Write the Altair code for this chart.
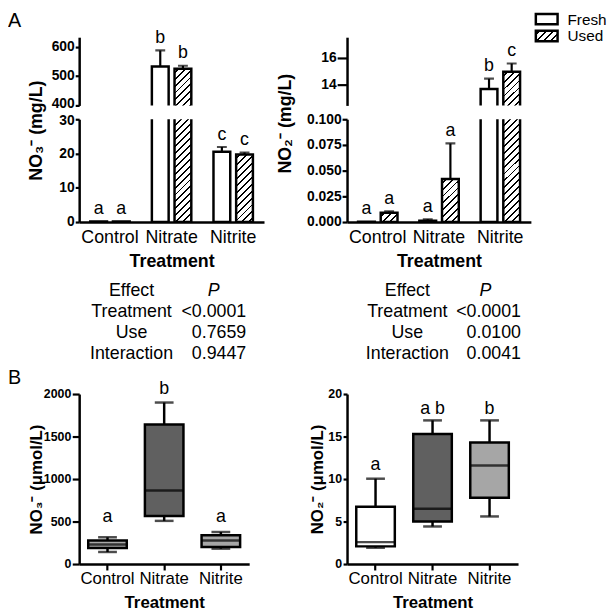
import altair as alt
import pandas as pd

FONT = "Liberation Sans"

treatments = ["Control", "Nitrate", "Nitrite"]
uses = ["Fresh", "Used"]

# ---- Panel A, NO3- (mg/L): means, upper error, letters
no3_fresh_mean = [0.15, 532.0, 20.5]
no3_fresh_err = [0.0, 55.0, 1.4]
no3_used_mean = [0.15, 525.0, 19.7]
no3_used_err = [0.0, 10.0, 0.6]
no3_fresh_letters = ["a", "b", "c"]
no3_used_letters = ["a", "b", "c"]

# ---- Panel A, NO2- (mg/L)
no2_fresh_mean = [0.0002, 0.0013, 13.71]
no2_fresh_err = [0.0, 0.0013, 0.75]
no2_used_mean = [0.009, 0.0418, 14.96]
no2_used_err = [0.0013, 0.0347, 0.61]
no2_fresh_letters = ["a", "a", "b"]
no2_used_letters = ["a", "a", "c"]

# ---- ANOVA tables
effects = ["Treatment", "Use", "Interaction"]
no3_p = ["<0.0001", "0.7659", "0.9447"]
no2_p = ["<0.0001", "0.0100", "0.0041"]

# ---- Panel B, NO3- (umol/L) box plots
b_no3_min = [142, 508, 181]
b_no3_q1 = [188, 565, 200]
b_no3_med = [231, 865, 277]
b_no3_q3 = [277, 1642, 338]
b_no3_max = [315, 1900, 377]
b_no3_letters = ["a", "b", "a"]
b_no3_letter_pos = [495, 2000, 495]

# ---- Panel B, NO2- (umol/L) box plots
b_no2_min = [1.92, 4.42, 5.6]
b_no2_q1 = [2.08, 5.0, 7.8]
b_no2_med = [2.58, 6.5, 11.6]
b_no2_q3 = [6.73, 15.3, 14.3]
b_no2_max = [10.04, 16.9, 16.9]
b_no2_letters = ["a", "a b", "b"]
b_no2_letter_pos = [11.1, 17.7, 17.7]

# ---- styles
SW = 2.5
EW = 2.2
PAD_IN, PAD_OUT, OFF_IN = 0.36, 0.18, 0.26
B_NO3_FILLS = ["#a9a9a9", "#606060", "#a6a6a6"]
B_NO2_FILLS = ["#ffffff", "#606060", "#a6a6a6"]


def bar_width(width):
    step = width / (len(treatments) - PAD_IN + 2 * PAD_OUT)
    band = step * (1 - PAD_IN)
    sub = band / (len(uses) - OFF_IN)
    return sub * (1 - OFF_IN)


def hatch(w, h, period=7.0, line=1.9):
    s = w + h
    c = s / (w * w + h * h)
    stops = []
    pos = period * 0.45
    while pos < s:
        a = round(pos / s, 5)
        b = round(min((pos + line) / s, 1.0), 5)
        stops += [{"offset": a, "color": "#ffffff"}, {"offset": a, "color": "#000000"},
                  {"offset": b, "color": "#000000"}, {"offset": b, "color": "#ffffff"}]
        pos += period
    return {"gradient": "linear", "x1": 0, "y1": 0,
            "x2": round(w * c, 5), "y2": round(h * c, 5), "stops": stops}


def bar_table(fm, fe, um, ue, fl, ul):
    rows = []
    for i, t in enumerate(treatments):
        rows.append(dict(treatment=t, use="Fresh", mean=fm[i], err=fe[i], letter=fl[i]))
        rows.append(dict(treatment=t, use="Used", mean=um[i], err=ue[i], letter=ul[i]))
    df = pd.DataFrame(rows)
    df["top"] = df["mean"] + df["err"]
    return df


def bar_panel(df, lo, hi, width, height, yvals, yfmt, tick, lower,
              ytitle=None, title_x=0.0, title_y=0.0, nudge=None):
    ppu = height / (hi - lo)
    m = 4.0 / ppu
    d = df.copy()
    d["bar_top"] = d["mean"].clip(upper=hi + m)
    d["bar_base"] = 0.0 if lo <= 0 else lo - m
    d = d[d["mean"] > lo].reset_index(drop=True)

    yscale = alt.Scale(domain=[lo, hi], nice=False, zero=False)
    ax = dict(values=yvals, format=yfmt, tickSize=tick, labelPadding=1,
              labelFontSize=14, labelFontWeight="bold", labelOverlap=False)
    if nudge is not None:
        ax["labelOffset"] = {"condition": {"test": f"datum.value == {nudge[0]}",
                                           "value": nudge[1]}, "value": 0}
    if ytitle is not None:
        ax.update(title=ytitle, titleX=title_x, titleY=title_y, titleAngle=270,
                  titleAlign="center", titleBaseline="alphabetic",
                  titleFontSize=18, titleFontWeight="bold")
    else:
        ax.update(title=None)
    yaxis = alt.Axis(**ax)
    if lower:
        xaxis = alt.Axis(ticks=False, tickSize=0, labelPadding=7, labelFontSize=18,
                         labelAngle=0, labelFontWeight="normal", title="Treatment",
                         titleFontSize=18, titleFontWeight="bold", titleY=31,
                         titleBaseline="top")
    else:
        xaxis = None

    def Y(f):
        return alt.Y(f, scale=yscale, axis=yaxis)

    x = alt.X("treatment:N", scale=alt.Scale(domain=treatments, paddingInner=PAD_IN,
                                             paddingOuter=PAD_OUT), axis=xaxis)
    xo = alt.XOffset("use:N", scale=alt.Scale(domain=uses, paddingInner=OFF_IN, paddingOuter=0))

    base = alt.Chart(d).encode(x=x, xOffset=xo)
    layers = []
    layers.append(base.transform_filter(alt.datum.use == "Fresh").mark_bar(
        fill="white", stroke="black", strokeWidth=SW, clip=True).encode(
        y=Y("bar_top:Q"), y2="bar_base:Q"))
    w = bar_width(width)
    for _, r in d[d["use"] == "Used"].iterrows():
        hpx = (r["bar_top"] - r["bar_base"]) * ppu
        fill = hatch(w, hpx) if hpx > 3 else "white"
        layers.append(base.transform_filter(
            (alt.datum.use == "Used") & (alt.datum.treatment == r["treatment"])).mark_bar(
            fill=fill, stroke="black", strokeWidth=SW, clip=True).encode(
            y=Y("bar_top:Q"), y2="bar_base:Q"))

    e = df[df["err"] > 0].reset_index(drop=True)
    ebase = alt.Chart(e).encode(x=x, xOffset=xo)
    layers.append(ebase.mark_rule(color="black", strokeWidth=EW, clip=True).encode(
        y=Y("mean:Q"), y2="top:Q"))
    layers.append(ebase.mark_tick(color="black", size=10, thickness=EW, clip=True).encode(
        y=Y("top:Q")))

    lt = df[(df["top"] >= lo) & (df["top"] <= hi)].reset_index(drop=True)
    layers.append(alt.Chart(lt).encode(x=x, xOffset=xo).mark_text(
        font=FONT, fontSize=18, baseline="alphabetic", align="center", dy=-7.5,
        color="black").encode(y=Y("top:Q"), text="letter:N"))
    return layers


no3 = bar_table(no3_fresh_mean, no3_fresh_err, no3_used_mean, no3_used_err,
                no3_fresh_letters, no3_used_letters)
no2 = bar_table(no2_fresh_mean, no2_fresh_err, no2_used_mean, no2_used_err,
                no2_fresh_letters, no2_used_letters)

WL, WR = 187, 186
HU, HL = 69, 104
GAP = 14

tl_u_layers = bar_panel(no3, 400, 632, WL, HU, [400, 500, 600], "d", 4, False,
                        nudge=(400, -1.5))
tl_u_layers.append(alt.Chart(pd.DataFrame({"t": ["A"]})).mark_text(
    font=FONT, fontSize=20, align="left", baseline="top", color="black").encode(
    x=alt.value(-72), y=alt.value(-26), text="t:N"))
tl_u = alt.layer(*tl_u_layers).properties(width=WL, height=HU)

tl_l = alt.layer(*bar_panel(no3, 0, 30, WL, HL, [0, 10, 20, 30], "d", 4, True,
                            ytitle="NO₃⁻ (mg/L)", title_x=-38.3, title_y=11,
                            nudge=(30, 1.5))
                 ).properties(width=WL, height=HL)

tr_u_layers = bar_panel(no2, 12.5, 17.5, WR, HU, [14, 16], "d", 10, False)
# legend
leg = pd.DataFrame({"name": ["Fresh"]})
leg2 = pd.DataFrame({"name": ["Used"]})
tr_u_layers.append(alt.Chart(leg).mark_rect(fill="white", stroke="black", strokeWidth=SW).encode(
    x=alt.value(191), x2=alt.value(213), y=alt.value(-23.5), y2=alt.value(-13)))
tr_u_layers.append(alt.Chart(leg2).mark_rect(fill=hatch(22, 10.5, period=7.0, line=1.9),
                                            stroke="black", strokeWidth=SW).encode(
    x=alt.value(191), x2=alt.value(213), y=alt.value(-6.5), y2=alt.value(4)))
tr_u_layers.append(alt.Chart(leg).mark_text(font=FONT, fontSize=15.5, align="left",
                                            baseline="middle", color="black").encode(
    x=alt.value(223), y=alt.value(-17.5), text="name:N"))
tr_u_layers.append(alt.Chart(leg2).mark_text(font=FONT, fontSize=15.5, align="left",
                                             baseline="middle", color="black").encode(
    x=alt.value(223), y=alt.value(-0.8), text="name:N"))
tr_u = alt.layer(*tr_u_layers).properties(width=WR, height=HU)

tr_l = alt.layer(*bar_panel(no2, 0, 0.1, WR, HL, [0, 0.025, 0.05, 0.075, 0.1], ".3f", 5, True,
                            ytitle="NO₂⁻ (mg/L)", title_x=-57, title_y=4)
                 ).properties(width=WR, height=HL)

TAB_H = 146


def table_chart(pvals, width, eff_x, p_x, val_x):
    body = pd.DataFrame({"row": [1, 2, 3], "effect": effects, "p": pvals})
    head = pd.DataFrame({"row": [0], "effect": ["Effect"], "p": ["P"]})
    allrows = pd.concat([head, body], ignore_index=True)
    yenc = alt.Y("row:O", axis=None,
                 scale=alt.Scale(domain=[0, 1, 2, 3], range=[55.6, 119.4], padding=0))
    t_eff = alt.Chart(allrows).mark_text(font=FONT, fontSize=18, align="center",
                                         baseline="middle", color="black").encode(
        x=alt.value(eff_x), y=yenc, text="effect:N")
    t_p = alt.Chart(head).mark_text(font=FONT, fontSize=18, align="center", fontStyle="italic",
                                    baseline="middle", color="black").encode(
        x=alt.value(p_x), y=yenc, text="p:N")
    t_v = alt.Chart(body).mark_text(font=FONT, fontSize=18, align="right",
                                    baseline="middle", color="black").encode(
        x=alt.value(val_x), y=yenc, text="p:N")
    return alt.layer(t_eff, t_p, t_v).properties(width=width, height=TAB_H)


tab_l = table_chart(no3_p, WL, 53, 136, 169)
tab_r = table_chart(no2_p, WR, 61, 140, 176)


def box_chart(mins, q1s, meds, q3s, maxs, letters, letter_pos, fills, hi, yvals,
              ytitle, title_x, tick, width, height, label=None):
    df = pd.DataFrame({"treatment": treatments, "lo": mins, "q1": q1s, "med": meds,
                       "q3": q3s, "hi": maxs, "letter": letters, "lp": letter_pos})
    yscale = alt.Scale(domain=[0, hi], nice=False)
    yaxis = alt.Axis(values=yvals, format="d", tickSize=tick, labelPadding=1.5,
                     labelFontSize=12.5, labelFontWeight="bold", labelOverlap=False,
                     title=ytitle, titleX=title_x, titleY=height / 2, titleAngle=270,
                     titleAlign="center", titleBaseline="alphabetic", titleFontSize=17,
                     titleFontWeight="bold")
    xaxis = alt.Axis(ticks=True, tickSize=6, labelPadding=1, labelFontSize=17, labelAngle=0,
                     labelFontWeight="normal", title="Treatment", titleFontSize=17,
                     titleFontWeight="bold", titleY=31.2, titleBaseline="top")
    x = alt.X("treatment:N", scale=alt.Scale(domain=treatments, paddingInner=0.3,
                                             paddingOuter=0.15), axis=xaxis)

    def Y(f):
        return alt.Y(f, scale=yscale, axis=yaxis)

    base = alt.Chart(df).encode(x=x)
    layers = [
        base.mark_rule(color="black", strokeWidth=SW).encode(y=Y("lo:Q"), y2="hi:Q"),
        base.mark_bar(size=39, stroke="black", strokeWidth=SW).encode(
            y=Y("q1:Q"), y2="q3:Q",
            fill=alt.Fill("treatment:N", scale=alt.Scale(domain=treatments, range=fills),
                          legend=None)),
        base.mark_tick(size=39, thickness=SW, color="black").encode(y=Y("med:Q")),
        base.mark_tick(size=19, thickness=SW, color="black").encode(y=Y("lo:Q")),
        base.mark_tick(size=19, thickness=SW, color="black").encode(y=Y("hi:Q")),
        base.mark_text(font=FONT, fontSize=18, baseline="alphabetic", align="center",
                       color="black").encode(y=Y("lp:Q"), text="letter:N"),
    ]
    if label:
        layers.append(alt.Chart(pd.DataFrame({"t": [label]})).mark_text(
            font=FONT, fontSize=20, align="left", baseline="top", color="black").encode(
            x=alt.value(-72), y=alt.value(-26), text="t:N"))
    return alt.layer(*layers).properties(width=width, height=height)


BH = 172
bl = box_chart(b_no3_min, b_no3_q1, b_no3_med, b_no3_q3, b_no3_max, b_no3_letters,
               b_no3_letter_pos, B_NO3_FILLS, 2000, [0, 500, 1000, 1500, 2000],
               "NO₃⁻ (μmol/L)", -38.3, 7, 172, BH, label="B")
br = box_chart(b_no2_min, b_no2_q1, b_no2_med, b_no2_q3, b_no2_max, b_no2_letters,
               b_no2_letter_pos, B_NO2_FILLS, 20, [0, 5, 10, 15, 20],
               "NO₂⁻ (μmol/L)", -25, 4, 173, BH)

chart = alt.concat(tl_u, tr_u, tl_l, tr_l, tab_l, tab_r, bl, br, columns=2,
                   spacing={"row": GAP, "column": 84}, bounds="flush", align="each",
                   padding=0, background="white").resolve_scale(fill="independent")

chart = chart.configure_view(stroke=None).configure_axis(
    grid=False, domainColor="black", domainWidth=SW, tickColor="black", tickWidth=2.2,
    labelColor="black", titleColor="black", labelFont=FONT, titleFont=FONT
).configure_text(font=FONT)

chart.save("out.html", embed_options={"renderer": "svg", "actions": False})
